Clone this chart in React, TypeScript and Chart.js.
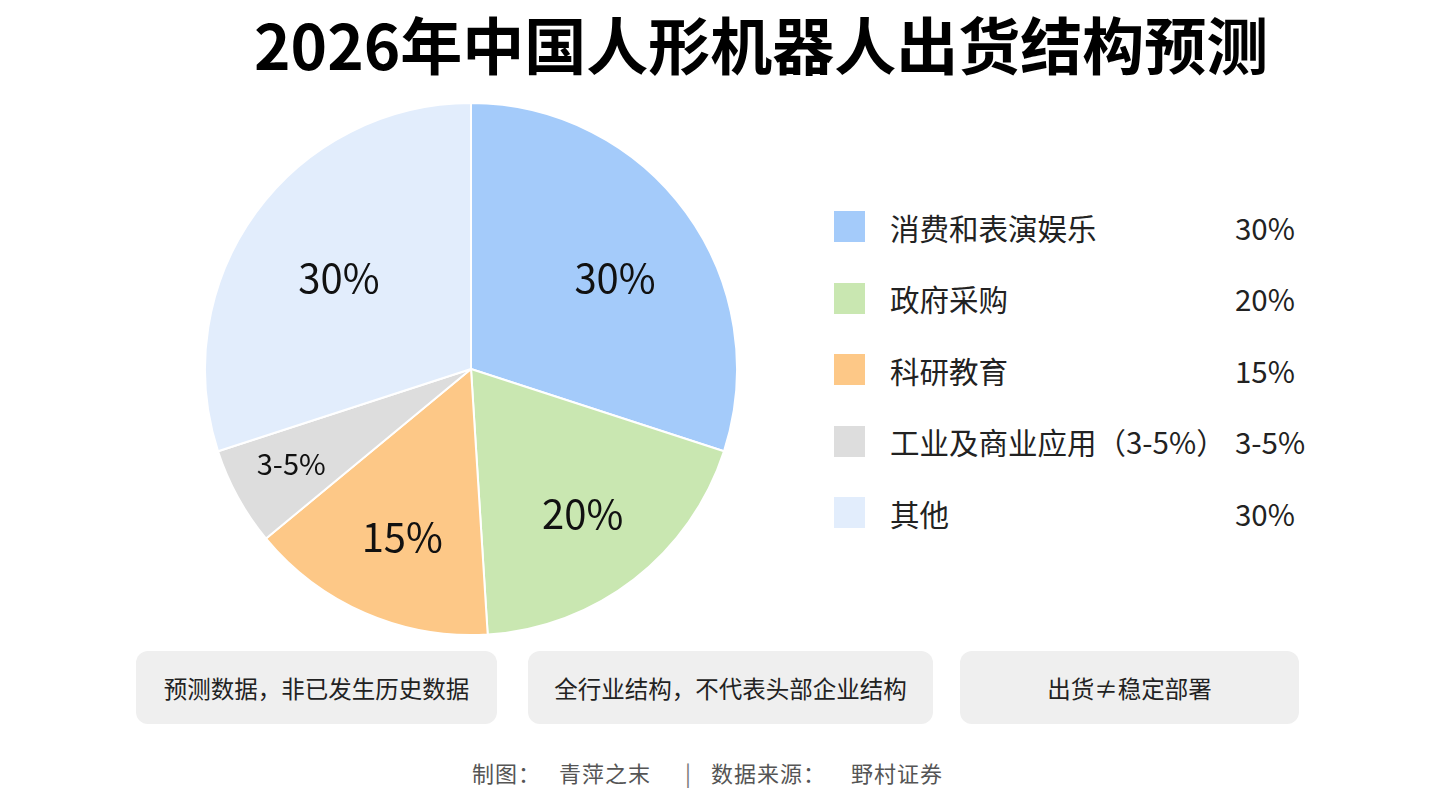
import React, { useEffect, useRef } from 'react';
import { Chart, registerables } from 'chart.js';

Chart.register(...registerables);

const categories = ['消费和表演娱乐', '政府采购', '科研教育', '工业及商业应用（3-5%）', '其他'];
const shareValues = [30, 19, 15, 6, 30];
const shareLabels = ['30%', '20%', '15%', '3-5%', '30%'];
const sliceColors = ['#A4CBFA', '#C9E7B1', '#FDC887', '#DDDDDD', '#E2EDFC'];
const notes = ['预测数据，非已发生历史数据', '全行业结构，不代表头部企业结构', '出货≠稳定部署'];

// label placement styling (fraction of radius and small pixel nudges)
const LABEL_FRAC = [0.66, 0.66, 0.66, 0.767, 0.66];
const LABEL_NUDGE = [
  [2, 12],
  [4, 6],
  [1, 7],
  [-1, -3],
  [10, 12],
];

const FONT = '"Noto Sans CJK SC", "Noto Sans", sans-serif';

export default function App() {
  const ref = useRef<HTMLCanvasElement | null>(null);

  useEffect(() => {
    if (!ref.current) return;
    const labelPlugin = {
      id: 'sliceLabels',
      afterDatasetsDraw(chart: any) {
        const ctx = chart.ctx;
        const meta = chart.getDatasetMeta(0);
        meta.data.forEach((arc: any, i: number) => {
          const p = arc.getProps(['startAngle', 'endAngle', 'outerRadius', 'x', 'y'], true);
          const mid = (p.startAngle + p.endAngle) / 2;
          const small = shareValues[i] < 10;
          const r = p.outerRadius * LABEL_FRAC[i];
          ctx.save();
          ctx.font = `${small ? 29 : 40}px ${FONT}`;
          ctx.fillStyle = '#111111';
          ctx.textAlign = 'center';
          ctx.textBaseline = 'middle';
          ctx.fillText(
            shareLabels[i],
            p.x + Math.cos(mid) * r + LABEL_NUDGE[i][0],
            p.y + Math.sin(mid) * r + LABEL_NUDGE[i][1]
          );
          ctx.restore();
        });
      },
    };
    const chart = new Chart(ref.current, {
      type: 'pie',
      data: {
        labels: categories,
        datasets: [
          {
            data: shareValues,
            backgroundColor: sliceColors,
            borderColor: '#ffffff',
            borderWidth: 2,
          },
        ],
      },
      options: {
        animation: false,
        responsive: true,
        maintainAspectRatio: false,
        layout: { padding: 3 },
        plugins: {
          legend: { display: false },
          tooltip: { enabled: false },
        },
      },
      plugins: [labelPlugin],
    });
    return () => chart.destroy();
  }, []);

  const lefts = [136, 528, 960];
  const widths = [361, 405, 339];

  return (
    <div
      style={{
        position: 'fixed',
        left: 0,
        top: 0,
        width: 1439,
        height: 810,
        background: '#ffffff',
        fontFamily: FONT,
        color: '#111',
        overflow: 'hidden',
      }}
    >
      <div
        style={{
          position: 'absolute',
          left: 254,
          top: 0,
          whiteSpace: 'nowrap',
          fontSize: 62,
          fontWeight: 700,
          lineHeight: '86px',
          color: '#000',
        }}
      >
        2026年中国人形机器人出货结构预测
      </div>

      <div style={{ position: 'absolute', left: 201, top: 99, width: 540, height: 540 }}>
        <canvas ref={ref} />
      </div>

      {categories.map((c, i) => (
        <div
          key={c}
          style={{
            position: 'absolute',
            left: 834,
            top: 226.5 + i * 71.6 - 20,
            height: 40,
            width: 520,
            display: 'flex',
            alignItems: 'center',
            fontSize: 29.5,
            color: '#222',
            whiteSpace: 'nowrap',
          }}
        >
          <div style={{ width: 31, height: 31, background: sliceColors[i], flex: 'none' }} />
          <div style={{ position: 'absolute', left: 56, lineHeight: '40px' }}>{c}</div>
          <div style={{ position: 'absolute', left: 401, lineHeight: '40px' }}>{shareLabels[i]}</div>
        </div>
      ))}

      {notes.map((n, i) => (
        <div
          key={n}
          style={{
            position: 'absolute',
            left: lefts[i],
            top: 651,
            width: widths[i],
            height: 73,
            background: '#EFEFEF',
            borderRadius: 12,
            display: 'flex',
            alignItems: 'center',
            justifyContent: 'center',
            fontSize: 23.5,
            color: '#222',
            whiteSpace: 'nowrap',
          }}
        >
          {n}
        </div>
      ))}

      <div
        style={{
          position: 'absolute',
          left: 472,
          top: 752,
          fontSize: 22,
          color: '#555',
          lineHeight: '40px',
          letterSpacing: 1,
          whiteSpace: 'nowrap',
          display: 'flex',
        }}
      >
        <span>制图：</span>
        <span style={{ marginLeft: 18 }}>青萍之末</span>
        <span style={{ marginLeft: 34, marginRight: 19, color: '#777' }}>|</span>
        <span>数据来源：</span>
        <span style={{ marginLeft: 25 }}>野村证券</span>
      </div>
    </div>
  );
}
